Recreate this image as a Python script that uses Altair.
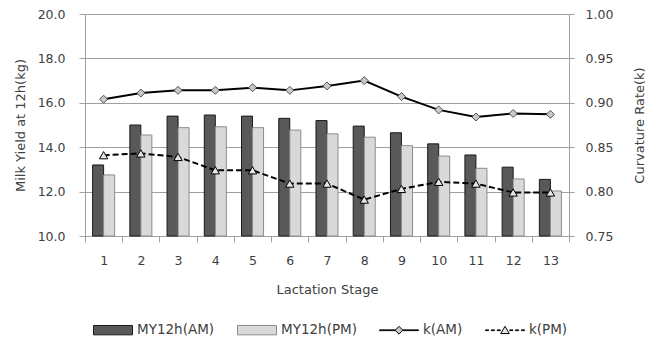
import altair as alt
import pandas as pd

# ---- data ----
stages = list(range(1, 14))
my_am = [13.2, 15.0, 15.4, 15.45, 15.4, 15.3, 15.2, 14.95, 14.65, 14.15, 13.65, 13.1, 12.55]
my_pm = [12.75, 14.55, 14.88, 14.92, 14.88, 14.77, 14.6, 14.45, 14.07, 13.6, 13.05, 12.57, 12.03]
k_am = [0.904, 0.911, 0.914, 0.914, 0.917, 0.914, 0.919, 0.925, 0.907, 0.892, 0.884, 0.888, 0.887]
k_pm = [0.841, 0.843, 0.839, 0.824, 0.824, 0.809, 0.809, 0.791, 0.803, 0.811, 0.809, 0.799, 0.799]
series_names = ["MY12h(AM)", "MY12h(PM)", "k(AM)", "k(PM)"]
left_ticks = [10, 12, 14, 16, 18, 20]
right_ticks = [0.75, 0.80, 0.85, 0.90, 0.95, 1.00]

df_bar = pd.DataFrame(
    {"stage": stages * 2,
     "series": [series_names[0]] * 13 + [series_names[1]] * 13,
     "value": my_am + my_pm}
)
df_k = pd.DataFrame(
    {"stage": stages * 2,
     "series": [series_names[2]] * 13 + [series_names[3]] * 13,
     "value": k_am + k_pm}
)

FONT = "DejaVu Sans"
TXT = "#404040"
GRID = "#a0a0a0"

# legend symbol glyphs (unit-square paths)
BOX = "M-1,-0.24L1,-0.24L1,0.24L-1,0.24Z"


def seg(a, b):
    return f"M{a},-0.02L{b},-0.02L{b},0.02L{a},0.02Z"


PATH_AM = seg(-1, -0.2) + seg(0.2, 1) + "M-0.2,0L0,-0.2L0.2,0L0,0.2Z"
PATH_PM = (seg(-1, -0.84) + seg(-0.7, -0.54) + seg(-0.4, -0.24)
           + seg(0.24, 0.4) + seg(0.54, 0.7) + seg(0.84, 1)
           + "M-0.22,0.17L0,-0.2L0.22,0.17Z")

legend = alt.Legend(
    title=None, orient="none", legendX=8, legendY=296, direction="horizontal",
    symbolSize=1521, labelOffset=4, columnPadding=20, padding=0, symbolStrokeWidth=1,
    labelFont=FONT, labelFontSize=13.5, labelColor=TXT,
)

fill_scale = alt.Scale(domain=series_names, range=["#595959", "#d9d9d9", "#c8c8c8", "#e6e6e6"])
stroke_scale = alt.Scale(domain=series_names, range=["#1a1a1a", "#8c8c8c", "#000000", "#000000"])
shape_scale = alt.Scale(domain=series_names, range=[BOX, BOX, PATH_AM, PATH_PM])

xaxis = alt.Axis(title="Lactation Stage", labelAngle=0, tickBand="extent", tickSize=6,
                 labelPadding=12, domainColor=GRID, tickColor=GRID, grid=False,
                 titleY=57, titleBaseline="alphabetic")
x_enc = alt.X("stage:O", scale=alt.Scale(paddingInner=0, paddingOuter=0), axis=xaxis)

yleft = alt.Axis(title="Milk Yield at 12h(kg)", values=left_ticks, format=".1f", grid=True,
                 gridColor=GRID, domainColor=GRID, tickColor=GRID, tickSize=6, labelPadding=14,
                 titleX=-61, titleY=111, titleAngle=270, titleBaseline="alphabetic",
                 titleAlign="center")
yright = alt.Axis(orient="right", title="Curvature Rate(k)", values=right_ticks, format=".2f",
                  grid=False, domainColor=GRID, tickColor=GRID, tickSize=5, labelPadding=11,
                  titleX=74, titleY=111, titleAngle=270, titleBaseline="alphabetic",
                  titleAlign="center")
y_l = alt.Y("value:Q", scale=alt.Scale(domain=[10, 20], nice=False, zero=False), axis=yleft)

bars = alt.Chart(df_bar).mark_bar(strokeWidth=1).encode(
    x=x_enc,
    xOffset=alt.XOffset("series:N", scale=alt.Scale(domain=series_names[:2], paddingInner=0,
                                                    paddingOuter=0.69)),
    y=y_l,
    y2=alt.datum(10),
    fill=alt.Fill("series:N", scale=fill_scale, legend=legend),
    stroke=alt.Stroke("series:N", scale=stroke_scale, legend=legend),
)

# legend-only layer (draws no marks; supplies the symbol shapes to the shared legend)
legend_layer = alt.Chart(df_k).transform_filter("false").mark_point(
    filled=True, opacity=1, strokeWidth=1).encode(
    x=x_enc, y=y_l,
    fill=alt.Fill("series:N", scale=fill_scale, legend=legend),
    stroke=alt.Stroke("series:N", scale=stroke_scale, legend=legend),
    shape=alt.Shape("series:N", scale=shape_scale, legend=legend),
)

y_r = alt.Y("value:Q", scale=alt.Scale(domain=[0.75, 1.0], nice=False, zero=False), axis=yright)

base_k = alt.Chart(df_k).encode(x=x_enc, y=y_r)
line_am = base_k.transform_filter(alt.datum.series == "k(AM)").mark_line(color="#000000", strokeWidth=2)
line_pm = base_k.transform_filter(alt.datum.series == "k(PM)").mark_line(
    color="#000000", strokeWidth=2, strokeDash=[6, 3])
pt_am = base_k.transform_filter(alt.datum.series == "k(AM)").mark_point(
    shape="diamond", size=64, filled=True, fill="#c8c8c8", stroke="#505050", strokeWidth=1, opacity=1)
pt_pm = base_k.transform_filter(alt.datum.series == "k(PM)").mark_point(
    shape="triangle-up", size=70, filled=True, fill="#e6e6e6", stroke="#000000", strokeWidth=1, opacity=1)

left = alt.layer(bars, legend_layer)
right = alt.layer(line_am, line_pm, pt_am, pt_pm)

chart = alt.layer(left, right).resolve_scale(y="independent").properties(
    width=484, height=222,
    padding={"left": 77, "top": 6, "right": 76, "bottom": 104},
    autosize=alt.AutoSizeParams(type="none"),
).configure_view(stroke=None).configure_axis(
    labelFont=FONT, labelFontSize=12.5, labelColor=TXT,
    titleFont=FONT, titleFontSize=13, titleColor=TXT, titleFontWeight="normal",
)

chart.save("out.html", embed_options={"renderer": "svg", "actions": False})
